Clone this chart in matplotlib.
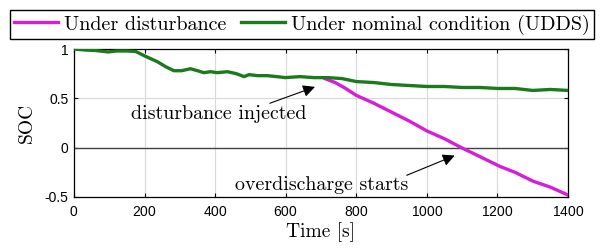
import numpy as np
import matplotlib.pyplot as plt

# data
t_nom = [0, 30, 60, 97, 120, 150, 175, 200, 237, 260, 283, 305, 330, 350, 368, 387, 406, 435, 460,
         482, 496, 520, 547, 575, 599, 640, 680, 720, 760, 800, 850, 900, 950, 1000, 1050, 1100,
         1150, 1200, 1250, 1300, 1350, 1400]
soc_nom = [1.0, 0.99, 0.985, 0.97, 0.98, 0.98, 0.975, 0.93, 0.87, 0.82, 0.78, 0.78, 0.80, 0.78,
           0.76, 0.77, 0.76, 0.77, 0.75, 0.72, 0.74, 0.73, 0.73, 0.72, 0.71, 0.72, 0.71, 0.71,
           0.70, 0.67, 0.66, 0.64, 0.63, 0.62, 0.62, 0.61, 0.61, 0.60, 0.60, 0.58, 0.59, 0.58]

t_dist = [711, 740, 770, 800, 850, 900, 950, 1000, 1050, 1098, 1150, 1207, 1250, 1301, 1350, 1400]
soc_dist = [0.70, 0.66, 0.60, 0.53, 0.45, 0.36, 0.27, 0.17, 0.09, 0.0, -0.09, -0.19, -0.25,
            -0.34, -0.40, -0.48]

plt.rcParams['font.family'] = 'cmr10'
plt.rcParams['mathtext.fontset'] = 'cm'
plt.rcParams['axes.formatter.use_mathtext'] = True

fig = plt.figure(figsize=(6.03, 2.49), dpi=100)
ax = fig.add_axes([74 / 603, 1 - 197 / 249, 494 / 603, 148 / 249])

ax.axhline(0, color='#444444', lw=1.0, zorder=2)
l1, = ax.plot(t_dist, soc_dist, color='#D61ED8', lw=2.4, label='Under disturbance', zorder=3)
l2, = ax.plot(t_nom, soc_nom, color='#1B7A1B', lw=2.4, label='Under nominal condition (UDDS)', zorder=3)

ax.set_xlim(0, 1400)
ax.set_ylim(-0.5, 1)
ax.set_xticks(np.arange(0, 1401, 200))
ax.set_yticks([-0.5, 0, 0.5, 1])
ax.set_yticklabels(['-0.5', '0', '0.5', '1'])
ax.grid(True, color='#d8d8d8', lw=0.8)
ax.tick_params(direction='in', length=3, top=True, right=True, labelsize=10)
ax.tick_params(axis='x', pad=6)
ax.tick_params(axis='y', pad=4)
for lab in ax.get_xticklabels() + ax.get_yticklabels():
    lab.set_fontfamily('Liberation Sans')
for s in ax.spines.values():
    s.set_linewidth(0.9)

ax.set_xlabel('Time [s]', fontsize=14, labelpad=2)
ax.set_ylabel('SOC', fontsize=14, labelpad=6)

# annotations
ax.text(660, 0.29, 'disturbance injected', fontsize=14.4, ha='right', va='baseline')
ax.annotate('', xy=(683, 0.616), xytext=(555, 0.45),
            arrowprops=dict(arrowstyle='-|>', color='black', lw=0.8, mutation_scale=18,
                            shrinkA=0, shrinkB=0))
ax.text(946, -0.43, 'overdischarge starts', fontsize=14.4, ha='right', va='baseline')
ax.annotate('', xy=(1079, -0.08), xytext=(943, -0.28),
            arrowprops=dict(arrowstyle='-|>', color='black', lw=0.8, mutation_scale=18,
                            shrinkA=0, shrinkB=0))

fig.legend(handles=[l1, l2], loc='center', bbox_to_anchor=(302 / 603, 1 - 24.5 / 249), ncol=2,
           fontsize=14.5, frameon=True, fancybox=False, edgecolor='black', framealpha=1,
           handlelength=2.2, handletextpad=0.3, columnspacing=0.7, borderpad=0.2)

fig.savefig('out.png', dpi=100)
